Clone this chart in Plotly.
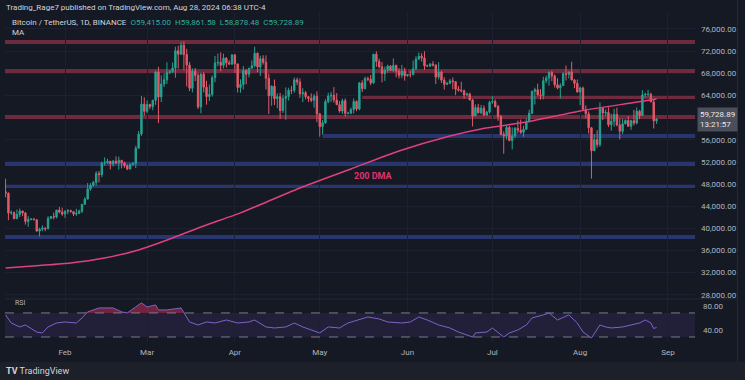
import plotly.graph_objects as go
import pandas as pd

# ---------------- DATA ----------------
start_date = "2024-01-11"
first_open = 46633

closes = [
    # Jan 11-31
    46339, 42782, 42847, 41732, 42511, 43137, 42776, 41262, 41618, 41665, 41545, 39507, 39845, 40077, 39934,
    41816, 42120, 42035, 43300, 42946, 42580,
    # Feb
    43082, 43200, 43011, 42583, 42708, 43098, 44349, 45288, 47132, 47751, 48299, 49917, 49699, 51795, 51880,
    52124, 51642, 52137, 51779, 52284, 51839, 51304, 50731, 51571, 51733, 54476, 57037, 62432, 61130,
    # Mar
    62387, 61987, 63113, 68245, 63724, 66074, 66823, 68124, 68313, 68955, 72078, 71452, 73072, 71388, 69499,
    65300, 68393, 67609, 61937, 67840, 65501, 63797, 64209, 67211, 69880, 69988, 69455, 70744, 69892, 69645, 71333,
    # Apr
    69702, 65446, 65980, 68508, 67837, 68896, 69360, 71620, 69146, 70631, 70007, 67116, 63924, 65661, 63419,
    63793, 61277, 63470, 63818, 64941, 64926, 66819, 66414, 64289, 64499, 63770, 63462, 63119, 63867, 60672,
    # May
    58364, 59060, 62882, 63892, 64031, 63161, 62334, 61187, 63049, 60792, 60793, 61448, 62901, 61552, 66267,
    65231, 67051, 66940, 66278, 71446, 70148, 69166, 67969, 68549, 69290, 68508, 69436, 68398, 67652, 68352, 67540,
    # Jun
    67766, 67765, 68809, 70567, 71082, 70757, 69342, 69305, 69648, 69512, 67321, 68243, 66757, 66012, 66191,
    66639, 66491, 65140, 64960, 64828, 64096, 64252, 63180, 60277, 61806, 60864, 61706, 60427, 60986, 62772,
    # Jul
    62900, 62029, 60173, 56978, 56662, 58232, 55857, 56714, 58051, 57725, 57338, 57889, 59204, 60797, 64724,
    65043, 64087, 63987, 66661, 67139, 68165, 67532, 65936, 65372, 65777, 67912, 67813, 68255, 66785, 66188, 64628,
    # Aug 1-28
    65354, 61499, 60697, 58161, 54018, 56022, 55134, 61685, 60837, 60923, 58713, 59346, 60587, 58683, 57541,
    58874, 59491, 58427, 59439, 59014, 61158, 60381, 64094, 64178, 64220, 62834, 59416, 59729,
]
highs = [
    48969, 46500, 43260, 43065, 43400, 43578, 43198, 42930, 42195, 41870, 41880, 41650, 40130, 40555, 40129,
    42200, 42200, 42840, 43310, 43883, 43745,
    43285, 43494, 43381, 43119, 43544, 43399, 44389, 45614, 48200, 48170, 48592, 50334, 50368, 52043, 52816,
    52575, 52160, 52357, 52985, 52965, 52371, 52020, 51548, 51705, 51950, 54910, 57588, 63913, 63677,
    63115, 62433, 63230, 68500, 69170, 67637, 67990, 69990, 68592, 69950, 72800, 72969, 73650, 73777, 72419,
    70043, 68888, 68956, 68100, 68100, 68240, 66650, 65970, 67622, 71150, 71561, 71769, 71552, 70916, 70355, 71366,
    71400, 69708, 66914, 69291, 68725, 69000, 70327, 72797, 71758, 71172, 71256, 71227, 67932, 65840, 66867,
    64355, 64476, 64125, 65450, 65389, 65700, 67232, 67208, 67075, 65293, 64800, 63923, 64370, 64243, 64734,
    60860, 59602, 63320, 64494, 64646, 65500, 64422, 62986, 63421, 63469, 61057, 61818, 63450, 63118, 66444,
    66752, 67400, 67400, 67700, 71515, 71979, 70625, 70041, 69220, 69562, 69500, 70687, 69560, 68920, 69500, 69000,
    67860, 68460, 70288, 71063, 71758, 71625, 71997, 69563, 69860, 70195, 69567, 69999, 68449, 67300, 66445,
    66990, 67244, 66578, 65728, 66482, 65066, 64521, 64491, 63369, 62400, 62480, 62293, 62200, 61224, 63058,
    63861, 63288, 62299, 60498, 57500, 58475, 58472, 58236, 58296, 59470, 59650, 58526, 59850, 61420, 64900,
    65388, 66128, 65133, 67386, 67598, 68366, 68480, 67818, 67102, 66175, 68207, 69399, 68318, 70079, 66999, 66869,
    65593, 65596, 62198, 61117, 58305, 57040, 57726, 62745, 61744, 61470, 61858, 60700, 61578, 61800, 59848,
    59790, 59700, 60284, 59617, 61400, 61820, 61400, 64955, 64522, 64999, 64488, 63212, 59862,
]
lows = [
    45606, 41500, 42440, 41720, 41718, 42050, 42200, 40683, 40280, 41446, 41500, 39431, 38555, 39484, 39485,
    39823, 41650, 41620, 41800, 42683, 42276,
    41884, 42565, 42880, 42222, 42258, 42574, 42788, 44331, 45242, 46800, 47538, 47710, 48300, 49225, 51310,
    51625, 50625, 51175, 51715, 50625, 50831, 50935, 50525, 50600, 51280, 50901, 54450, 56700, 60364,
    60777, 61561, 61320, 62300, 59005, 62800, 65515, 66080, 67895, 68080, 67194, 68845, 71330, 68555, 65630,
    64780, 64555, 66600, 61555, 60775, 64529, 62330, 63000, 63800, 66385, 69280, 68359, 68903, 69064, 69576, 69504,
    68062, 64550, 64493, 65064, 66011, 67244, 68856, 69040, 68210, 67518, 69567, 65086, 60660, 62135, 62274,
    61716, 59768, 60833, 59600, 63090, 64277, 64500, 65864, 63589, 62794, 63298, 62824, 62781, 61796, 59191,
    56552, 56937, 58848, 62599, 62822, 62700, 62261, 60888, 60648, 60187, 60558, 60632, 60750, 61143, 61330,
    64602, 65106, 66601, 65857, 66060, 69162, 68900, 66356, 66622, 68128, 68456, 68250, 67300, 67075, 67131, 66670,
    67386, 67257, 67612, 68567, 70383, 70119, 68620, 69210, 69131, 69225, 66051, 66900, 66251, 65056, 65848,
    66034, 65115, 64060, 64693, 64559, 63379, 63943, 63176, 58402, 60250, 60712, 60620, 60379, 60425, 60712,
    62497, 61777, 59420, 56771, 53485, 56038, 55724, 54260, 56289, 57157, 57050, 56542, 57756, 59200, 60632,
    62373, 63854, 63238, 63300, 66222, 65777, 66574, 65441, 65111, 63456, 65743, 66705, 67066, 66720, 65301, 64520,
    62248, 61248, 59850, 57122, 49000, 53962, 54566, 54730, 59565, 60242, 58286, 57642, 58392, 58433, 56078,
    57068, 58785, 58408, 57787, 58610, 58783, 59724, 60342, 63590, 63780, 62800, 58034, 58878,
]

# 200-day moving average
dma_dates = ["2024-01-11", "2024-01-23", "2024-02-03", "2024-02-15", "2024-02-27", "2024-03-10", "2024-03-21",
             "2024-04-03", "2024-04-13", "2024-04-24", "2024-05-12", "2024-05-29", "2024-06-16", "2024-06-27",
             "2024-07-04", "2024-07-15", "2024-08-01", "2024-08-19", "2024-08-28"]
dma_values = [32860, 33310, 33760, 34660, 36110, 38270, 40440, 42790, 44950, 47300, 50730, 53980, 56690, 57950,
              58490, 59390, 61200, 62640, 63360]

# RSI
rsi_dates = ["2024-01-11", "2024-01-13", "2024-01-16", "2024-01-18", "2024-01-22", "2024-01-24", "2024-01-26",
             "2024-01-29", "2024-02-01", "2024-02-05", "2024-02-07", "2024-02-09", "2024-02-13", "2024-02-18",
             "2024-02-21", "2024-02-23", "2024-02-26", "2024-02-28", "2024-03-01", "2024-03-04", "2024-03-05",
             "2024-03-08", "2024-03-13", "2024-03-14", "2024-03-16", "2024-03-19", "2024-03-22", "2024-03-25",
             "2024-03-29", "2024-04-02", "2024-04-06", "2024-04-08", "2024-04-12", "2024-04-15", "2024-04-19",
             "2024-04-22", "2024-04-25", "2024-04-28", "2024-05-01", "2024-05-04", "2024-05-08", "2024-05-11",
             "2024-05-15", "2024-05-18", "2024-05-22", "2024-05-25", "2024-05-30", "2024-06-02", "2024-06-05",
             "2024-06-08", "2024-06-12", "2024-06-16", "2024-06-19", "2024-06-24", "2024-06-25", "2024-06-29",
             "2024-07-01", "2024-07-05", "2024-07-07", "2024-07-10", "2024-07-13", "2024-07-15", "2024-07-19",
             "2024-07-21", "2024-07-24", "2024-07-28", "2024-07-31", "2024-08-02", "2024-08-05", "2024-08-08",
             "2024-08-10", "2024-08-12", "2024-08-16", "2024-08-19", "2024-08-22", "2024-08-24", "2024-08-26",
             "2024-08-27", "2024-08-28"]
rsi_values = [66.7, 53.3, 46.7, 50.0, 38.3, 36.7, 46.7, 53.3, 55.0, 53.3, 61.7, 71.7, 78.3, 78.3, 71.7, 70.0,
              80.0, 86.7, 80.0, 83.3, 75.0, 75.0, 78.3, 70.0, 55.0, 50.0, 55.0, 53.3, 58.3, 53.3, 55.0, 58.3,
              46.7, 45.0, 46.7, 53.3, 46.7, 41.7, 36.7, 46.7, 45.0, 53.3, 58.3, 63.3, 60.0, 55.0, 53.3, 55.0,
              63.3, 58.3, 50.0, 45.0, 38.3, 30.0, 36.7, 38.3, 45.0, 30.0, 36.7, 41.7, 50.0, 61.7, 66.7, 70.0,
              58.3, 66.7, 53.3, 38.3, 28.3, 50.0, 46.7, 45.0, 46.7, 50.0, 53.3, 58.3, 53.3, 44.0, 46.0]

# Support / resistance zones: level and start date (None = whole chart)
red_levels = [73650, 68420, 63700, 60120]
red_starts = [None, None, "2024-05-16", None]
blue_levels = [56690, 51630, 47660, 38455]
blue_starts = ["2024-05-02", None, None, None]

price_ticks = [28000, 32000, 36000, 40000, 44000, 48000, 52000, 56000, 64000, 68000, 72000, 76000]
month_ticks = ["2024-02-01", "2024-03-01", "2024-04-01", "2024-05-01", "2024-06-01", "2024-07-01",
               "2024-08-01", "2024-09-01"]
month_labels = ["Feb", "Mar", "Apr", "May", "Jun", "Jul", "Aug", "Sep"]
last_price = 59728.89

# ---------------- STYLE ----------------
BG = "#151924"
GRID = "#1c2030"
TXT = "#b2b5be"
GREEN = "#26a290"
RED = "#e35a69"
RED_ZONE = "#6d2b3d"
BLUE_ZONE = "#27366f"
FONT = "Roboto"
X0 = "2024-01-10 19:00"
X1 = "2024-09-10 14:00"

dates = pd.date_range(start_date, periods=len(closes), freq="D")
opens = [first_open] + closes[:-1]

fig = go.Figure()

fig.add_trace(go.Candlestick(
    x=dates, open=opens, high=highs, low=lows, close=closes,
    increasing=dict(line=dict(color=GREEN, width=1), fillcolor=GREEN),
    decreasing=dict(line=dict(color=RED, width=1), fillcolor=RED),
    whiskerwidth=0, showlegend=False, hoverinfo="skip", xaxis="x", yaxis="y"))

fig.add_trace(go.Scatter(
    x=dma_dates, y=dma_values, mode="lines", line=dict(color="#e0407c", width=1.5, shape="spline", smoothing=0.6),
    showlegend=False, hoverinfo="skip", xaxis="x", yaxis="y"))

# RSI overbought fill
fig.add_trace(go.Scatter(x=rsi_dates, y=[70] * len(rsi_dates), mode="lines", line=dict(width=0),
                         showlegend=False, hoverinfo="skip", xaxis="x", yaxis="y2"))
fig.add_trace(go.Scatter(x=rsi_dates, y=[max(v, 70) for v in rsi_values], mode="lines", line=dict(width=0),
                         fill="tonexty", fillcolor="rgba(190,45,80,0.55)",
                         showlegend=False, hoverinfo="skip", xaxis="x", yaxis="y2"))
fig.add_trace(go.Scatter(x=rsi_dates, y=rsi_values, mode="lines", line=dict(color="#7e62c8", width=1),
                         showlegend=False, hoverinfo="skip", xaxis="x", yaxis="y2"))

shapes = []
for lvl, st in zip(red_levels, red_starts):
    shapes.append(dict(type="line", xref="x", yref="y", x0=st if st else X0, x1=X1, y0=lvl, y1=lvl,
                       line=dict(color=RED_ZONE, width=4), layer="below"))
for lvl, st in zip(blue_levels, blue_starts):
    shapes.append(dict(type="line", xref="x", yref="y", x0=st if st else X0, x1=X1, y0=lvl, y1=lvl,
                       line=dict(color=BLUE_ZONE, width=4), layer="below"))
# RSI band and levels
shapes.append(dict(type="rect", xref="x domain", yref="y2", x0=0, x1=1, y0=30, y1=70,
                   fillcolor="rgba(126,87,194,0.13)", line=dict(width=0), layer="below"))
for lvl in (70, 30):
    shapes.append(dict(type="line", xref="x domain", yref="y2", x0=0, x1=1, y0=lvl, y1=lvl,
                       line=dict(color="#787b86", width=1, dash="dash")))
# pane separator
shapes.append(dict(type="line", xref="paper", yref="paper", x0=0, x1=1.06, y0=0.131, y1=0.131,
                   line=dict(color="#262a36", width=1)))
# bottom strip
shapes.append(dict(type="rect", xref="paper", yref="paper", x0=-0.01, x1=1.08, y0=-0.12, y1=-0.061,
                   fillcolor="#1d2029", line=dict(width=0)))
# right border of price scale
shapes.append(dict(type="line", xref="paper", yref="paper", x0=1.0616, x1=1.0616, y0=-0.061, y1=1.04,
                   line=dict(color="#262a36", width=1)))

annotations = [
    dict(xref="paper", yref="paper", x=-0.002, y=1.018, xanchor="left", yanchor="middle", showarrow=False,
         text="Trading_Rage7 published on TradingView.com, Aug 28, 2024 06:38 UTC-4",
         font=dict(family=FONT, size=8, color="#d1d4dc")),
    dict(xref="paper", yref="paper", x=0.007, y=0.9726, xanchor="left", yanchor="middle", showarrow=False,
         text=("<span style='color:#d1d4dc'>Bitcoin / TetherUS, 1D, BINANCE</span>  "
               "<span style='color:#2fae9c'>O59,415.00  H59,861.58  L58,878.48  C59,728.89</span>"),
         font=dict(family=FONT, size=8, color="#d1d4dc")),
    dict(xref="paper", yref="paper", x=0.007, y=0.9422, xanchor="left", yanchor="middle", showarrow=False,
         text="MA", font=dict(family=FONT, size=8, color="#d1d4dc")),
    dict(xref="x", yref="y", x="2024-05-20", y=49470, showarrow=False, text="<b>200 DMA</b>",
         font=dict(family=FONT, size=9, color="#e0336a")),
    dict(xref="paper", yref="y", x=1.0, y=last_price, xanchor="left", yanchor="middle", xshift=2,
         showarrow=False, text="59,728.89<br>13:21:57", align="left", bgcolor="#4a4f5b",
         borderpad=2, font=dict(family=FONT, size=8, color="#e8e9ec")),
    dict(xref="paper", yref="paper", x=-0.002, y=-0.088, xanchor="left", yanchor="middle", showarrow=False,
         text="<b>TV</b> TradingView", font=dict(family=FONT, size=9, color="#d1d4dc")),
    dict(xref="paper", yref="y2", x=1.0, y=80, xanchor="left", yanchor="middle", xshift=6, showarrow=False,
         text="80.00", font=dict(family=FONT, size=8, color=TXT)),
    dict(xref="paper", yref="y2", x=1.0, y=40, xanchor="left", yanchor="middle", xshift=6, showarrow=False,
         text="40.00", font=dict(family=FONT, size=8, color=TXT)),
    dict(xref="paper", yref="y2", x=0.012, y=86, xanchor="left", yanchor="middle", showarrow=False,
         text="RSI", font=dict(family=FONT, size=7, color="#b2b5be")),
]

fig.update_layout(
    width=745, height=380,
    margin=dict(l=5, r=50, t=13, b=38),
    paper_bgcolor=BG, plot_bgcolor=BG,
    showlegend=False,
    font=dict(family=FONT, size=8, color=TXT),
    shapes=shapes, annotations=annotations,
    xaxis=dict(type="date", range=[X0, X1], anchor="y2", tickvals=month_ticks, ticktext=month_labels,
               showgrid=True, gridcolor=GRID, gridwidth=1, zeroline=False, showline=False,
               rangeslider=dict(visible=False), tickfont=dict(family=FONT, size=8, color=TXT),
               ticks="", ticklabelstandoff=4),
    yaxis=dict(domain=[0.134, 1], range=[27444, 78888], side="right", anchor="x",
               tickvals=price_ticks, ticktext=[f"{v:,.2f}" for v in price_ticks],
               showgrid=True, gridcolor=GRID, zeroline=False, showline=False,
               tickfont=dict(family=FONT, size=8, color=TXT), ticks="", ticklabelstandoff=5),
    yaxis2=dict(domain=[0, 0.128], range=[21.7, 91.7], side="right", anchor="x",
                showticklabels=False, showgrid=False, zeroline=False, showline=False),
)

fig.write_html("out.html", config={"displayModeBar": False},
               post_script="document.body.style.margin='0px';document.body.style.background='#151924';")
